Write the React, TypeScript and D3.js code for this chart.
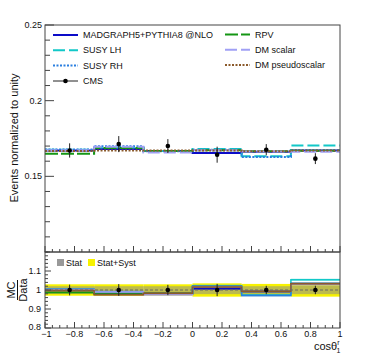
import React from "react";
import * as d3 from "d3";

// bin edges of cos(theta^r_1)
const binEdges = [-1, -0.667, -0.333, 0, 0.333, 0.667, 1];
const binCenters = [-0.833, -0.5, -0.167, 0.167, 0.5, 0.833];

// CMS data, normalized
const cmsData = [0.1671, 0.1713, 0.17, 0.1643, 0.1676, 0.1617];
const cmsErr = [0.0047, 0.0053, 0.0046, 0.0053, 0.0037, 0.0036];

// model predictions
const madgraph = [0.1671, 0.168, 0.1667, 0.1654, 0.1663, 0.167];
const susyLH = [0.1675, 0.169, 0.1668, 0.168, 0.1632, 0.1704];
const susyRH = [0.1678, 0.1698, 0.1666, 0.1676, 0.1628, 0.1672];
const rpv = [0.165, 0.1687, 0.1668, 0.1672, 0.1665, 0.1669];
const dmScalar = [0.1673, 0.1696, 0.1658, 0.1672, 0.1664, 0.1663];
const dmPseudo = [0.1667, 0.167, 0.167, 0.167, 0.1665, 0.1671];

// relative uncertainty bands in the ratio
const statRel = [0.02, 0.02, 0.02, 0.022, 0.02, 0.022];
const totRel = [0.03, 0.03, 0.03, 0.035, 0.032, 0.035];

const xTicks = [-1, -0.8, -0.6, -0.4, -0.2, 0, 0.2, 0.4, 0.6, 0.8, 1];
const yTicksTop = [0.15, 0.2, 0.25];
const yTicksBot = [0.8, 0.9, 1, 1.1];

const series = [
  { name: "MADGRAPH5+PYTHIA8 @NLO", vals: madgraph, color: "#0c0cc8", dash: "" },
  { name: "SUSY LH", vals: susyLH, color: "#12c8c8", dash: "12 4" },
  { name: "SUSY RH", vals: susyRH, color: "#2a7fe0", dash: "2 1.5" },
  { name: "RPV", vals: rpv, color: "#149614", dash: "13 3" },
  { name: "DM scalar", vals: dmScalar, color: "#a0a0f5", dash: "12 4" },
  { name: "DM pseudoscalar", vals: dmPseudo, color: "#8b5a2b", dash: "2 1.5" },
];

const font = "'Liberation Sans', Arial, sans-serif";

const App = () => {
  const x = d3.scaleLinear().domain([-1, 1]).range([45, 340]);
  const yT = d3.scaleLinear().domain([0.1, 0.25]).range([252, 25]);
  const yB = d3.scaleLinear().domain([0.8, 1.2]).range([328, 252]);

  const step = (vals: number[], y: d3.ScaleLinear<number, number>) => {
    const pts: [number, number][] = vals.map((v, i) => [binEdges[i], v]);
    pts.push([binEdges[binEdges.length - 1], vals[vals.length - 1]]);
    return d3
      .line<[number, number]>()
      .x((d) => x(d[0]))
      .y((d) => y(d[1]))
      .curve(d3.curveStepAfter)(pts) as string;
  };

  const minorX = d3.range(-1, 1.0001, 0.05);
  const minorYT = d3.range(0.1, 0.2501, 0.01);
  const minorYB = d3.range(0.8, 1.2001, 0.02);
  const fmt = (v: number) => (Math.abs(v) < 1e-9 ? "0" : d3.format("")(+v.toFixed(2)));

  const legendLeft = [series[0], series[1], series[2]];
  const legendRight = [series[3], series[4], series[5]];

  return (
    <svg
      width={370}
      height={360}
      style={{ position: "absolute", left: 0, top: 0, background: "white" }}
      fontFamily={font}
    >
      {/* ---------- upper pad ---------- */}
      {series.map((s) => (
        <path key={s.name} d={step(s.vals, yT)} fill="none" stroke={s.color}
          strokeWidth={2} strokeDasharray={s.dash} />
      ))}
      {cmsData.map((v, i) => (
        <g key={i}>
          <line x1={x(binCenters[i])} x2={x(binCenters[i])} y1={yT(v - cmsErr[i])}
            y2={yT(v + cmsErr[i])} stroke="#222" strokeWidth={1} />
          <circle cx={x(binCenters[i])} cy={yT(v)} r={2.3} fill="black" />
        </g>
      ))}
      {/* frame */}
      <rect x={45} y={25} width={295} height={227} fill="none" stroke="#444" strokeWidth={1} />
      {minorYT.map((t, i) => {
        const major = yTicksTop.some((m) => Math.abs(m - t) < 1e-6);
        return <line key={i} x1={45} x2={45 + (major ? 9 : 5)} y1={yT(t)} y2={yT(t)} stroke="#444" />;
      })}
      {yTicksTop.map((t) => (
        <text key={t} x={42} y={yT(t) + 3} fontSize={9} textAnchor="end" fill="#111">{fmt(t)}</text>
      ))}
      {minorX.map((t, i) => {
        const major = xTicks.some((m) => Math.abs(m - t) < 1e-6);
        return <line key={i} x1={x(t)} x2={x(t)} y1={252} y2={252 - (major ? 6 : 3)} stroke="#444" />;
      })}
      <text transform="translate(18,138) rotate(-90)" fontSize={11} textAnchor="middle" fill="#111">
        Events normalized to unity
      </text>

      {/* legend */}
      {legendLeft.map((s, i) => (
        <g key={s.name}>
          <line x1={53} x2={78} y1={35 + i * 15.3} y2={35 + i * 15.3} stroke={s.color}
            strokeWidth={2} strokeDasharray={s.dash} />
          <text x={83} y={35 + i * 15.3 + 3} fontSize={9} fill="#111">{s.name}</text>
        </g>
      ))}
      <g>
        <line x1={53} x2={78} y1={81} y2={81} stroke="#222" />
        <circle cx={65.5} cy={81} r={2.3} fill="black" />
        <text x={83} y={84} fontSize={9} fill="#111">CMS</text>
      </g>
      {legendRight.map((s, i) => (
        <g key={s.name}>
          <line x1={225} x2={250} y1={34.5 + i * 15.3} y2={34.5 + i * 15.3} stroke={s.color}
            strokeWidth={2} strokeDasharray={s.dash} />
          <text x={255} y={34.5 + i * 15.3 + 3} fontSize={9} fill="#111">{s.name}</text>
        </g>
      ))}

      {/* ---------- lower pad ---------- */}
      {cmsData.map((_, i) => (
        <rect key={"t" + i} x={x(binEdges[i])} width={x(binEdges[i + 1]) - x(binEdges[i])}
          y={yB(1 + totRel[i])} height={yB(1 - totRel[i]) - yB(1 + totRel[i])} fill="#f7f200" />
      ))}
      {cmsData.map((_, i) => (
        <rect key={"s" + i} x={x(binEdges[i])} width={x(binEdges[i + 1]) - x(binEdges[i])}
          y={yB(1 + statRel[i])} height={yB(1 - statRel[i]) - yB(1 + statRel[i])}
          fill="#8c8c8c" opacity={0.55} />
      ))}
      {series.map((s) => {
        const r = s.vals.map((v, i) => v / cmsData[i]);
        return (
          <g key={s.name}>
            {r.map((v, i) => (
              <rect key={i} x={x(binEdges[i])} width={x(binEdges[i + 1]) - x(binEdges[i])}
                y={yB(v + 0.006)} height={yB(v - 0.006) - yB(v + 0.006)} fill={s.color} opacity={0.35} />
            ))}
            <path d={step(r, yB)} fill="none" stroke={s.color} strokeWidth={1.5} />
          </g>
        );
      })}
      <line x1={45} x2={340} y1={yB(1)} y2={yB(1)} stroke="#666" strokeWidth={1.2} strokeDasharray="3 2" />
      {cmsData.map((v, i) => {
        const rel = cmsErr[i] / v;
        return (
          <g key={i}>
            <line x1={x(binCenters[i])} x2={x(binCenters[i])} y1={yB(1 - rel)} y2={yB(1 + rel)}
              stroke="#222" strokeWidth={1} />
            <circle cx={x(binCenters[i])} cy={yB(1)} r={2.3} fill="black" />
          </g>
        );
      })}
      <rect x={45} y={252} width={295} height={76} fill="none" stroke="#444" strokeWidth={1} />
      {minorYB.map((t, i) => {
        const major = yTicksBot.some((m) => Math.abs(m - t) < 1e-6);
        return <line key={i} x1={45} x2={45 + (major ? 6 : 3)} y1={yB(t)} y2={yB(t)} stroke="#444" />;
      })}
      {yTicksBot.map((t) => (
        <text key={t} x={41} y={yB(t) + (t === 0.8 ? 2 : 3)} fontSize={9} textAnchor="end" fill="#111">{fmt(t)}</text>
      ))}
      {minorX.map((t, i) => {
        const major = xTicks.some((m) => Math.abs(m - t) < 1e-6);
        return <line key={i} x1={x(t)} x2={x(t)} y1={328} y2={328 - (major ? 6 : 3)} stroke="#444" />;
      })}
      {xTicks.map((t) => (
        <text key={t} x={x(t) + (t === -1 ? 1.5 : 0)} y={337} fontSize={9} textAnchor="middle" fill="#111">{fmt(t)}</text>
      ))}
      {/* ratio legend */}
      <rect x={57} y={259} width={7} height={7} fill="#999" />
      <text x={66} y={266} fontSize={9} fill="#111">Stat</text>
      <rect x={88} y={259} width={7} height={7} fill="#f7f200" />
      <text x={97} y={266} fontSize={9} fill="#111">Stat+Syst</text>
      {/* ratio axis title */}
      <g transform="translate(0,290) rotate(-90)" fill="#111">
        <text x={0} y={15} fontSize={11} textAnchor="middle">MC</text>
        <line x1={-10} x2={10} y1={17.5} y2={17.5} stroke="#111" strokeWidth={1} />
        <text x={0} y={27} fontSize={11} textAnchor="middle">Data</text>
      </g>
      <text x={314} y={350} fontSize={11} fill="#111">
        cosθ
        <tspan fontSize={7} dy={-5}>r</tspan>
        <tspan fontSize={7} dx={-3} dy={8}>1</tspan>
      </text>
    </svg>
  );
};

export default App;
